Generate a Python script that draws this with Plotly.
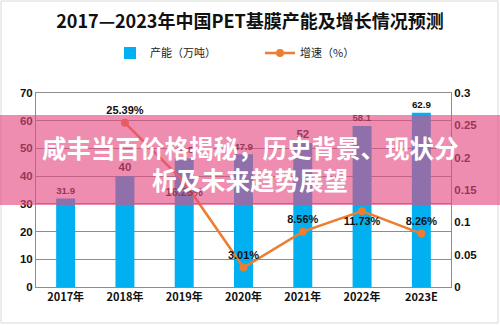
import plotly.graph_objects as go

# Data
years = ["2017年", "2018年", "2019年", "2020年", "2021年", "2022年", "2023E"]
capacity = [31.9, 40, 46.5, 47.9, 52, 58.1, 62.9]          # 万吨
growth = [None, 0.2539, 0.1625, 0.0301, 0.0856, 0.1173, 0.0826]  # 增速
growth_label_pos = ["top center", "top center", "bottom center", "top center",
                    "top center", "bottom center", "top center"]

left_ticks = [0, 10, 20, 30, 40, 50, 60, 70]
right_tickvals = [0, 0.05, 0.1, 0.15, 0.2, 0.25, 0.3]
right_ticktext = ["0", "0.05", "0.1", "0.15", "0.2", "0.25", "0.3"]

title_text = "2017—2023年中国PET基膜产能及增长情况预测"
banner_lines = ["咸丰当百价格揭秘，历史背景、现状分", "析及未来趋势展望"]

W, H = 500, 325
L, R, T, B = 36, 49, 93, 38
pw, ph = W - L - R, H - T - B


def px_x(x):
    return (x - L) / pw


def px_y(y):
    return (H - B - y) / ph


FONT = "Noto Sans CJK SC, Liberation Sans, sans-serif"
NUM_FONT = "Liberation Sans, sans-serif"
BLUE = "#00B0F0"
ORANGE = "#ED7D31"
GRID = "#8C8C8C"

fig = go.Figure()

fig.add_trace(go.Bar(
    x=years, y=capacity, name="产能（万吨）",
    marker=dict(color=BLUE, line=dict(width=0)),
    texttemplate="%{y}", textposition="outside",
    textfont=dict(family=NUM_FONT, size=11.5, color="#111", weight="bold"),
    cliponaxis=False, yaxis="y",
))

fig.add_trace(go.Scatter(
    x=years, y=growth, name="增速（%）", yaxis="y2",
    mode="lines+markers+text",
    line=dict(color=ORANGE, width=2.5),
    marker=dict(color=ORANGE, size=8),
    texttemplate="%{y:.2%}", textposition=growth_label_pos,
    textfont=dict(family=NUM_FONT, size=11, color="#111", weight="bold"),
    cliponaxis=False,
))

shapes = [
    # pink banner across the chart
    dict(type="rect", xref="paper", yref="paper",
         x0=px_x(0), x1=px_x(W), y0=px_y(205), y1=px_y(115),
         fillcolor="rgb(228,74,129)", opacity=0.63, line=dict(width=0), layer="above"),
    # outer frame
    dict(type="rect", xref="paper", yref="paper",
         x0=px_x(1), x1=px_x(W - 2), y0=px_y(H - 2), y1=px_y(1),
         line=dict(color="#D9D9D9", width=1), layer="below"),
]

annotations = [
    dict(text=f"<b>{line}</b>", xref="paper", yref="paper",
         x=px_x(250), y=px_y(yc), xanchor="center", yanchor="middle",
         showarrow=False, font=dict(family=FONT, size=24.5, color="white"))
    for line, yc in zip(banner_lines, [147, 179])
]

fig.update_layout(
    width=W, height=H,
    margin=dict(l=L, r=R, t=T, b=B),
    paper_bgcolor="white", plot_bgcolor="white",
    font=dict(family=FONT, color="#111"),
    title=dict(text=f"<b>{title_text}</b>", x=px_x(250), xref="paper",
               xanchor="center", y=1 - 22 / H, yanchor="middle",
               font=dict(family=FONT, size=18, color="#111")),
    showlegend=True,
    legend=dict(orientation="h", x=px_x(110), xanchor="left",
                y=px_y(53), yanchor="middle",
                font=dict(family=FONT, size=11, color="#222"),
                itemwidth=30, tracegroupgap=0, entrywidth=105),
    bargap=0.68,
    xaxis=dict(showgrid=False, showline=True, linecolor=GRID, mirror=True,
               ticks="", tickfont=dict(family=FONT, size=11, color="#111", weight="bold")),
    yaxis=dict(range=[0, 70], tickvals=left_ticks, showgrid=True, gridcolor=GRID,
               showline=True, linecolor=GRID, zeroline=False, ticks="",
               tickfont=dict(family=NUM_FONT, size=11.5, color="#111", weight="bold")),
    yaxis2=dict(range=[0, 0.3], tickvals=right_tickvals, ticktext=right_ticktext,
                overlaying="y", side="right", showgrid=False, showline=True,
                linecolor=GRID, zeroline=False, ticks="",
                tickfont=dict(family=NUM_FONT, size=11.5, color="#111", weight="bold")),
    shapes=shapes,
    annotations=annotations,
)

fig.write_html("out.html")
